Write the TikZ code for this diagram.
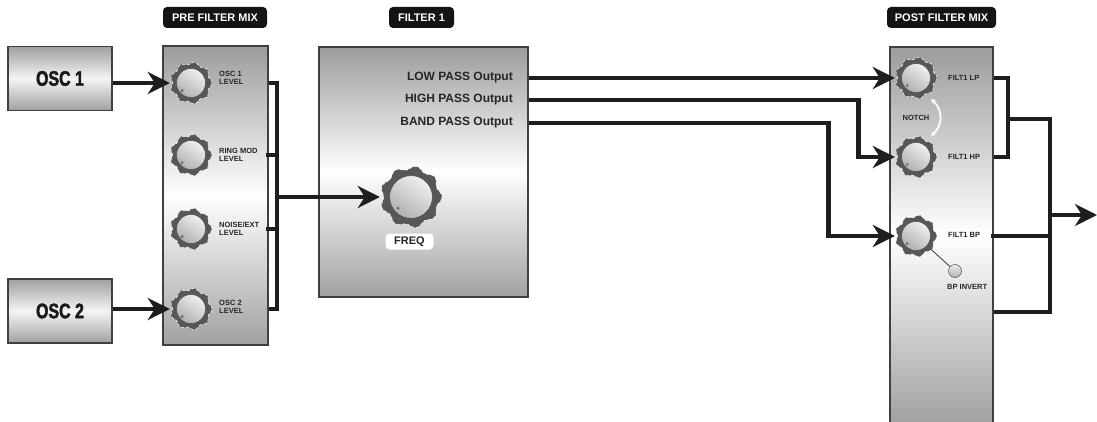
\documentclass[tikz,border=0pt]{standalone}
\usepackage{fontspec}
\setmainfont{Liberation Sans}
\newfontfamily\oscfont[FakeStretch=0.76,FakeBold=2]{Liberation Sans}
\usetikzlibrary{arrows.meta,calc}
\definecolor{panelgray}{HTML}{9C9C9C}
\definecolor{ringgray}{HTML}{575757}
\definecolor{wirecol}{HTML}{1E1E1E}
\tikzset{
  panel/.style={draw=black!75, line width=1.2pt, top color=panelgray, bottom color=panelgray!95, middle color=white, inner sep=0pt},
  oscbox/.style={draw=black!75, line width=1.2pt, top color=gray!75, bottom color=gray!75, middle color=gray!8, inner sep=0pt, minimum width=104pt, minimum height=64pt, font=\oscfont\bfseries\fontsize{21}{21}\selectfont, text=black!90},
  tag/.style={fill=black!92, rounded corners=4pt, text=white, font=\bfseries\fontsize{11}{11}\selectfont, minimum height=21pt, inner xsep=3pt, inner ysep=0pt},
  knobcap/.style={circle, draw=black!70, line width=0.5pt, top color=gray!12, bottom color=gray!62, shading angle=-35, inner sep=0pt},
  knobhit/.style={circle, inner sep=0pt},
  small/.style={font=\bfseries\fontsize{7.5}{7.6}\selectfont, align=left, inner sep=0pt, text=black!85},
  outlbl/.style={font=\bfseries\fontsize{12}{12}\selectfont, inner sep=0pt, anchor=east, text=black!85},
  wire/.style={line width=4.5pt, draw=wirecol, line join=miter},
  sig/.style={wire, -{Stealth[length=22pt,width=22pt,inset=7pt]}},
}
\newcommand\knob[4]{%
  \begin{scope}[shift={(#2,#3)}]
    \fill[ringgray, draw=white, line width=0.5pt, densely dashed] plot[domain=0:358, samples=180, smooth cycle] (\x:{#4*(0.94+0.06*cos(9*\x))});
  \end{scope}
  \node[knobcap, minimum size={1.38*#4*1pt}] at (#2,#3) {};
  \node[knobhit, minimum size={2*#4*1pt}] (#1) at (#2,#3) {};
  \draw[black!80, line width=0.4pt, fill=white] ({#2-0.42*#4},{#3+0.36*#4}) circle (1.1pt);
}
\begin{document}
\begin{tikzpicture}[x=1pt, y=-1pt]
\useasboundingbox (0,0) rectangle (1097,422);
\fill[white] (0,0) rectangle (1097,422);

% tags
\node[tag, minimum width=104pt] (tpre) at (215,17.5) {PRE FILTER MIX};
\node[tag, minimum width=65pt] (tfil) at (421.5,17.5) {FILTER 1};
\node[tag, minimum width=109pt] (tpost) at (941.5,17.5) {POST FILTER MIX};

% panels
\node[panel, minimum width=105pt, minimum height=299pt] (pre) at (215.5,195.5) {};
\node[panel, minimum width=209pt, minimum height=250pt] (filt) at (423.5,172) {};
\node[panel, minimum width=103pt, minimum height=376pt] (post) at (941.5,235) {};

% osc boxes
\node[oscbox] (osc1) at (60,78.5) {OSC 1};
\node[oscbox] (osc2) at (60,311) {OSC 2};

% pre filter knobs
\knob{k1}{191}{83}{21}
\knob{k2}{191}{155}{21}
\knob{k3}{191}{229}{21}
\knob{k4}{191}{309}{21}
\node[small, anchor=west] (l1) at (219,78) {OSC 1\\LEVEL};
\node[small, anchor=west] (l2) at (219,155) {RING MOD\\LEVEL};
\node[small, anchor=west] (l3) at (219,229) {NOISE/EXT\\LEVEL};
\node[small, anchor=west] (l4) at (219,307) {OSC 2\\LEVEL};

% filter
\knob{freq}{411}{197}{31}
\node[fill=white, rounded corners=4pt, minimum width=48pt, minimum height=16pt, inner sep=0pt, font=\bfseries\fontsize{11}{11}\selectfont, text=black!85] (freql) at (409.5,241.5) {FREQ};
\node[outlbl] (lpo) at (513,78) {LOW PASS Output};
\node[outlbl] (hpo) at (513,100) {HIGH PASS Output};
\node[outlbl] (bpo) at (513,123) {BAND PASS Output};

% post filter
\node[circle, draw=black!70, line width=0.5pt, top color=gray!15, bottom color=gray!60, minimum size=13pt, inner sep=0pt] (inv) at (955,271) {};
\draw[black!85, line width=0.7pt] (916,236) -- (inv);
\knob{lp}{916}{78}{21}
\knob{hp}{916}{157}{21}
\knob{bp}{916}{236}{21}
\node[small, anchor=west] (llp) at (948,78) {FILT1 LP};
\node[small, anchor=west] (lhp) at (948,157) {FILT1 HP};
\node[small, anchor=west] (lbp) at (948,235) {FILT1 BP};
\node[small] (notch) at (916,118) {NOTCH};
\node[small, anchor=north west] (linv) at (947,284) {BP INVERT};
\draw[white, line width=1.8pt, {Stealth[length=5pt,width=5pt]}-{Stealth[length=5pt,width=5pt]}] (931,99) .. controls (943,110) and (943,125) .. (931,136);

% connectors: oscillators
\draw[sig] (osc1.east |- k1) -- (k1.west);
\draw[sig] (osc2.east |- k4) -- (k4.west);

% pre filter bus
\coordinate (busT) at (277,83);
\coordinate (busB) at (277,309);
\coordinate (busM) at (277,197);
\draw[wire] (pre.east |- k1) -- (busT) -- (busB) -- (pre.east |- k4);
\draw[wire, line cap=rect] (pre.east |- k2) -- (busT |- k2);
\draw[wire, line cap=rect] (pre.east |- k3) -- (busT |- k3);
\draw[sig] (busM) -- (freq.west);

% filter outputs
\draw[sig] (filt.east |- lpo) -- (lp.west);
\draw[sig] (filt.east |- hpo) -- ++(330,0) |- (hp.west);
\draw[sig] (filt.east |- bpo) -- ++(300,0) |- (bp.west);

% post filter outputs
\coordinate (sumL) at (1008,119);
\coordinate (sumB) at (1050,312);
\coordinate (outp) at (1097,215);
\draw[wire] (post.east |- lp) -| (sumL |- hp) -- (post.east |- hp);
\draw[wire] (sumL) -| (sumB) -- (post.east |- sumB);
\draw[wire, line cap=rect] (post.east |- bp) -- (sumB |- bp);
\draw[sig] (sumB |- outp) -- (outp);
\end{tikzpicture}
\end{document}
